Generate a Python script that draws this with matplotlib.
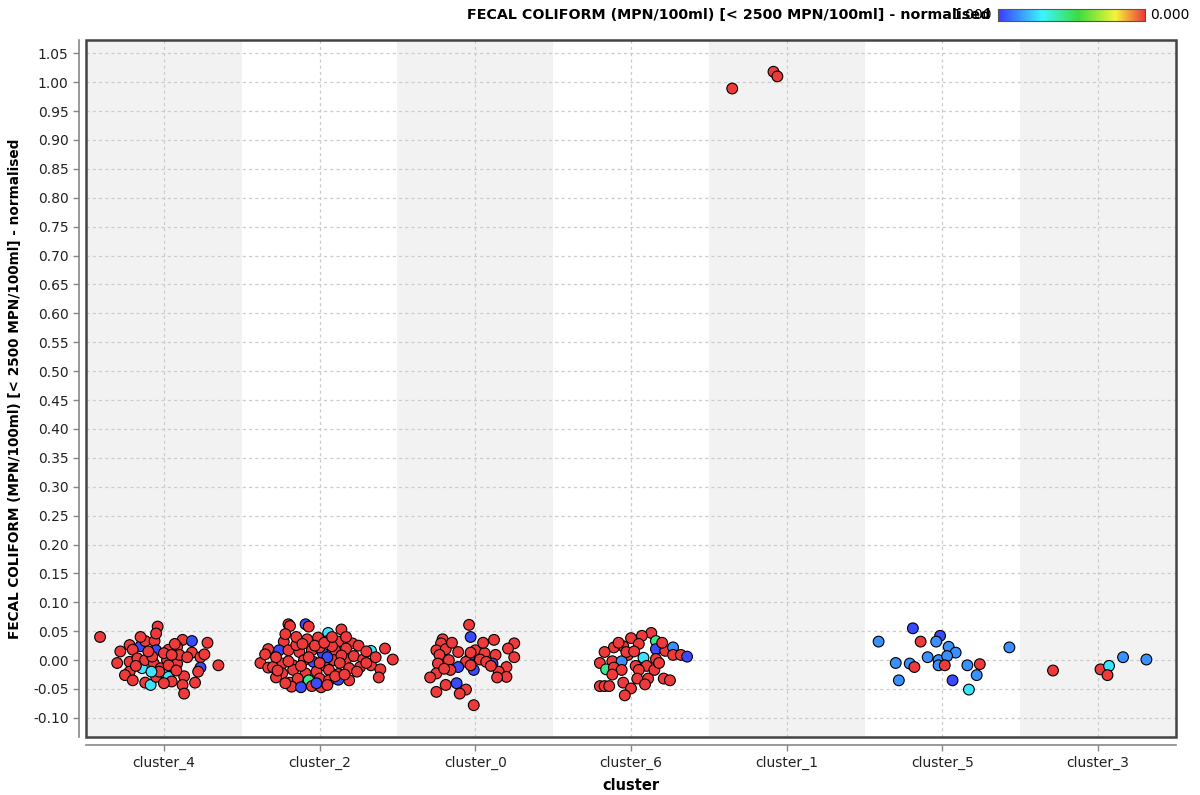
import numpy as np
import matplotlib
matplotlib.use("Agg")
import matplotlib.pyplot as plt
from matplotlib.colors import LinearSegmentedColormap
from matplotlib.patches import Rectangle

plt.rcParams["font.family"] = ["DejaVu Sans"]

ATTR = "FECAL COLIFORM (MPN/100ml) [< 2500 MPN/100ml] - normalised"
CLUSTERS = ["cluster_4", "cluster_2", "cluster_0", "cluster_6", "cluster_1", "cluster_5", "cluster_3"]
YTICKS = [-0.10, -0.05, 0.00, 0.05, 0.10, 0.15, 0.20, 0.25, 0.30, 0.35, 0.40, 0.45, 0.50,
          0.55, 0.60, 0.65, 0.70, 0.75, 0.80, 0.85, 0.90, 0.95, 1.00, 1.05]

# colour attribute levels
R, B, M, C, G = 1.0, 0.03, 0.14, 0.27, 0.45

# per cluster: jitter offset (category units), value, colour level
c4_jit = [-0.41, -0.04, -0.22, -0.15, -0.12, -0.06, -0.05, -0.05, -0.20, 0.12, 0.18, 0.28, 0.085,
          0.03, 0.18, 0.235, 0.35, 0.235, -0.22, -0.17, -0.14, -0.12, -0.065, -0.02, 0.02, 0.085,
          0.10, -0.22, -0.25, -0.20, -0.12, -0.085, 0.01, 0.03, 0.05, 0.13, 0.12, 0.13, 0.20,
          -0.05, -0.03, 0.03, -0.075, 0.00, 0.05,
          -0.30, -0.10, 0.07, 0.15, 0.22, -0.18, -0.08, 0.08, 0.26, -0.28, 0.00, -0.15]
c4_val = [0.040, 0.058, 0.026, 0.024, 0.033, 0.033, 0.017, 0.046, 0.018, 0.035, 0.033, 0.030, 0.023,
          0.018, 0.013, 0.005, -0.009, -0.013, -0.003, 0.003, -0.014, 0.000, -0.006, -0.014, 0.000,
          -0.006, 0.009, -0.020, -0.026, -0.035, -0.039, -0.043, -0.023, -0.029, -0.037, -0.028,
          -0.043, -0.058, -0.039, -0.029, -0.020, -0.009, 0.006, 0.012, 0.009,
          -0.005, 0.015, 0.028, 0.005, -0.020, -0.010, -0.020, -0.018, 0.010, 0.015, -0.040, 0.040]
c4_col = [R, R, R, B, R, R, B, R, R, R, B, R, R,
          R, R, R, R, B, R, R, C, R, R, R, R, R,
          R, R, R, R, R, C, C, C, R, R, R, R, R,
          R, R, R, R, R, R,
          R, R, R, R, R, R, C, R, R, R, R, R]

c2_jit = [-0.20, -0.19, -0.09, -0.07, 0.055, 0.14, 0.05, -0.08, -0.23, -0.01, 0.12, 0.21, 0.33,
          0.42, 0.47, -0.33, -0.38, -0.33, -0.26, -0.20, -0.13, -0.05, 0.02, 0.10, 0.17, -0.04,
          -0.24, -0.17, -0.10, 0.03, 0.09, 0.17, 0.22, 0.28, 0.33, 0.39, 0.38, 0.19, 0.26, -0.24,
          -0.17, -0.09, -0.02, 0.06, 0.12, 0.19, -0.19, -0.14, -0.07, 0.00, 0.06, 0.12, -0.18,
          -0.12, -0.05, 0.01, -0.30, -0.15, 0.08, 0.00, -0.28, 0.14,
          -0.28, -0.22, -0.15, -0.11, -0.03, 0.03, 0.08, 0.17, 0.25, 0.30, -0.20, -0.07, 0.05,
          0.13, 0.24, -0.27, -0.12, 0.00, 0.10, 0.16, -0.22, -0.02, 0.05, 0.30, 0.36, -0.35]
c2_val = [0.062, 0.059, 0.062, 0.058, 0.047, 0.053, 0.033, 0.036, 0.032, 0.039, 0.032, 0.029, 0.016,
          0.020, 0.001, 0.019, -0.005, -0.013, 0.017, 0.017, 0.014, 0.017, 0.012, 0.017, 0.020,
          -0.003, -0.006, -0.009, 0.000, -0.009, 0.000, 0.001, 0.007, 0.001, -0.009, -0.016,
          -0.030, -0.014, -0.012, -0.023, -0.017, -0.023, -0.020, -0.017, -0.024, -0.035, -0.039,
          -0.032, -0.035, -0.032, -0.035, -0.034, -0.046, -0.047, -0.045, -0.047, -0.012, 0.026,
          0.024, 0.022, -0.030, 0.008,
          0.005, 0.045, 0.040, 0.028, 0.025, 0.030, 0.040, 0.040, 0.025, 0.015, -0.002, 0.005,
          0.005, -0.005, -0.020, -0.018, -0.010, -0.005, -0.028, -0.025, -0.040, -0.040, -0.043,
          -0.005, 0.005, 0.010]
c2_col = [R, R, B, R, C, R, B, R, R, R, R, R, C,
          R, R, R, R, R, B, R, R, R, B, R, R, B,
          R, R, R, R, R, R, R, R, R, R, R, R, R, R,
          R, R, R, R, R, R, R, R, G, R, R, B, R,
          B, R, R, R, R, R, R, R, R,
          R, R, R, R, R, R, R, R, R, R, R, R, B,
          R, R, R, R, R, R, R, R, B, R, R, R, R]

c0_jit = [-0.04, -0.03, -0.21, -0.22, 0.12, 0.25, 0.21, -0.25, -0.19, -0.11, -0.03, 0.00, 0.06,
          0.13, -0.23, -0.17, -0.06, 0.03, 0.11, 0.07, -0.24, -0.11, -0.16, -0.01, -0.03, 0.20,
          0.15, 0.20, 0.14, -0.25, -0.29, -0.19, -0.12, -0.06, -0.10, -0.25, -0.01, -0.03,
          -0.15, 0.05, 0.10, -0.20, 0.25]
c0_val = [0.061, 0.040, 0.036, 0.029, 0.035, 0.029, 0.020, 0.017, 0.019, 0.014, 0.009, 0.017, 0.012,
          0.009, 0.009, 0.000, -0.003, 0.001, -0.006, -0.003, -0.006, -0.012, -0.017, -0.017,
          -0.009, -0.012, -0.020, -0.029, -0.030, -0.023, -0.030, -0.043, -0.040, -0.051, -0.058,
          -0.055, -0.078, 0.013,
          0.030, 0.030, -0.010, -0.015, 0.005]
c0_col = [R, B, R, R, R, R, R, R, R, R, B, R, R,
          R, R, R, R, R, B, R, R, B, R, B, R, R,
          R, R, R, R, R, R, B, R, R, R, R, R,
          R, R, R, R, R]

c6_jit = [0.13, 0.07, 0.00, 0.16, -0.05, -0.11, 0.05, 0.16, 0.22, 0.27, 0.27, 0.32, 0.36, -0.17,
          -0.02, 0.08, 0.16, -0.20, -0.12, -0.06, -0.16, -0.11, -0.06, 0.03, 0.10, 0.05, 0.15,
          0.04, 0.11, 0.21, 0.25, -0.05, 0.09, -0.20, -0.17, -0.14, 0.00, -0.04, -0.03,
          -0.08, 0.20, -0.12, 0.02, 0.18]
c6_val = [0.047, 0.042, 0.038, 0.033, 0.024, 0.022, 0.028, 0.019, 0.016, 0.022, 0.009, 0.009, 0.006,
          0.014, 0.009, 0.004, 0.002, -0.005, -0.002, -0.002, -0.016, -0.013, -0.017, -0.010,
          -0.010, -0.017, -0.017, -0.032, -0.032, -0.032, -0.035, -0.039, -0.042, -0.045, -0.045,
          -0.045, -0.049, -0.061, 0.014,
          0.030, 0.030, -0.025, 0.015, -0.005]
c6_col = [R, R, R, G, R, R, R, B, R, M, R, R, B, R,
          R, C, R, R, R, M, G, R, R, R, R, R, R,
          R, R, R, R, R, R, R, R, R, R, R, R,
          R, R, R, R, R]

c1_jit = [-0.35, -0.085, -0.06]
c1_val = [0.989, 1.018, 1.010]
c1_col = [R, R, R]

c5_jit = [-0.41, -0.19, -0.14, -0.015, -0.04, 0.04, 0.085, -0.095, -0.025, 0.03, -0.30, -0.21,
          -0.18, -0.025, 0.015, 0.16, 0.24, 0.22, -0.28, 0.065, 0.17, 0.43]
c5_val = [0.032, 0.055, 0.032, 0.042, 0.032, 0.023, 0.013, 0.005, 0.000, 0.007, -0.005, -0.006,
          -0.012, -0.009, -0.009, -0.009, -0.007, -0.026, -0.035, -0.035, -0.051, 0.022]
c5_col = [M, B, R, B, M, M, M, M, M, M, M, M,
          R, M, R, M, R, M, M, B, C, M]

c3_jit = [-0.29, 0.015, 0.07, 0.06, 0.16, 0.31]
c3_val = [-0.018, -0.016, -0.010, -0.026, 0.005, 0.001]
c3_col = [R, R, C, R, M, M]

JITTER = [c4_jit, c2_jit, c0_jit, c6_jit, c1_jit, c5_jit, c3_jit]
VALUES = [c4_val, c2_val, c0_val, c6_val, c1_val, c5_val, c3_val]
COLOURS = [c4_col, c2_col, c0_col, c6_col, c1_col, c5_col, c3_col]

cmap = LinearSegmentedColormap.from_list(
    "rm", [(0.0, "#3a3aff"), (0.3, "#3cf5ff"), (0.55, "#3cdd3c"), (0.8, "#f5f53c"), (1.0, "#ee3a3a")])

fig = plt.figure(figsize=(12, 7.95), dpi=100)
ax = fig.add_axes([0.0717, 0.073, 0.9083, 0.8767])

# alternating category bands
for i in range(len(CLUSTERS)):
    if i % 2 == 0:
        ax.axvspan(i - 0.5, i + 0.5, color="#f2f2f2", lw=0, zorder=0)

for i, name in enumerate(CLUSTERS):
    xs = i + np.asarray(JITTER[i])
    ax.scatter(xs, VALUES[i], c=COLOURS[i], cmap=cmap, vmin=0, vmax=1, s=60,
               edgecolors="black", linewidths=0.8, zorder=3)

ax.set_xlim(-0.5, len(CLUSTERS) - 0.5)
ax.set_ylim(-0.133, 1.073)
ax.set_xticks(range(len(CLUSTERS)))
ax.set_xticklabels(CLUSTERS, fontsize=10)
ax.set_yticks(YTICKS)
ax.set_yticklabels([f"{v:.2f}" for v in YTICKS], fontsize=10)
ax.grid(True, ls=(0, (2.5, 2.5)), color="#cccccc", lw=0.9, zorder=1)
ax.set_axisbelow(True)

# detached axis lines, box drawn separately
for side in ("top", "right"):
    ax.spines[side].set_visible(False)
ax.spines["left"].set_position(("outward", 5))
ax.spines["bottom"].set_position(("outward", 6))
for side in ("left", "bottom"):
    ax.spines[side].set_color("#888888")
    ax.spines[side].set_linewidth(1.2)
ax.tick_params(axis="both", colors="#888888", labelcolor="#222222", length=4, width=1)
ax.add_patch(Rectangle((0, 0), 1, 1, transform=ax.transAxes, fill=False,
                       ec="#444444", lw=1.8, zorder=5, clip_on=False))

ax.set_xlabel("cluster", fontsize=10.5, fontweight="bold", labelpad=6)
ax.set_ylabel(ATTR, fontsize=9.8, fontweight="bold", labelpad=8)

# colour legend across the top
fig.text(990 / 1200, 1 - 15 / 795, ATTR, ha="right", va="center", fontsize=10.3, fontweight="bold")
fig.text(992 / 1200, 1 - 15 / 795, "1.000", ha="right", va="center", fontsize=10)
cax = fig.add_axes([998 / 1200, 1 - 21 / 795, 147 / 1200, 12 / 795])
cax.imshow(np.linspace(0, 1, 256)[None, :], aspect="auto", cmap=cmap)
cax.set_xticks([]); cax.set_yticks([])
for s in cax.spines.values():
    s.set_color("#555555")
fig.text(1150 / 1200, 1 - 15 / 795, "0.000", ha="left", va="center", fontsize=10)

fig.savefig("out.png", dpi=100, facecolor="white")
